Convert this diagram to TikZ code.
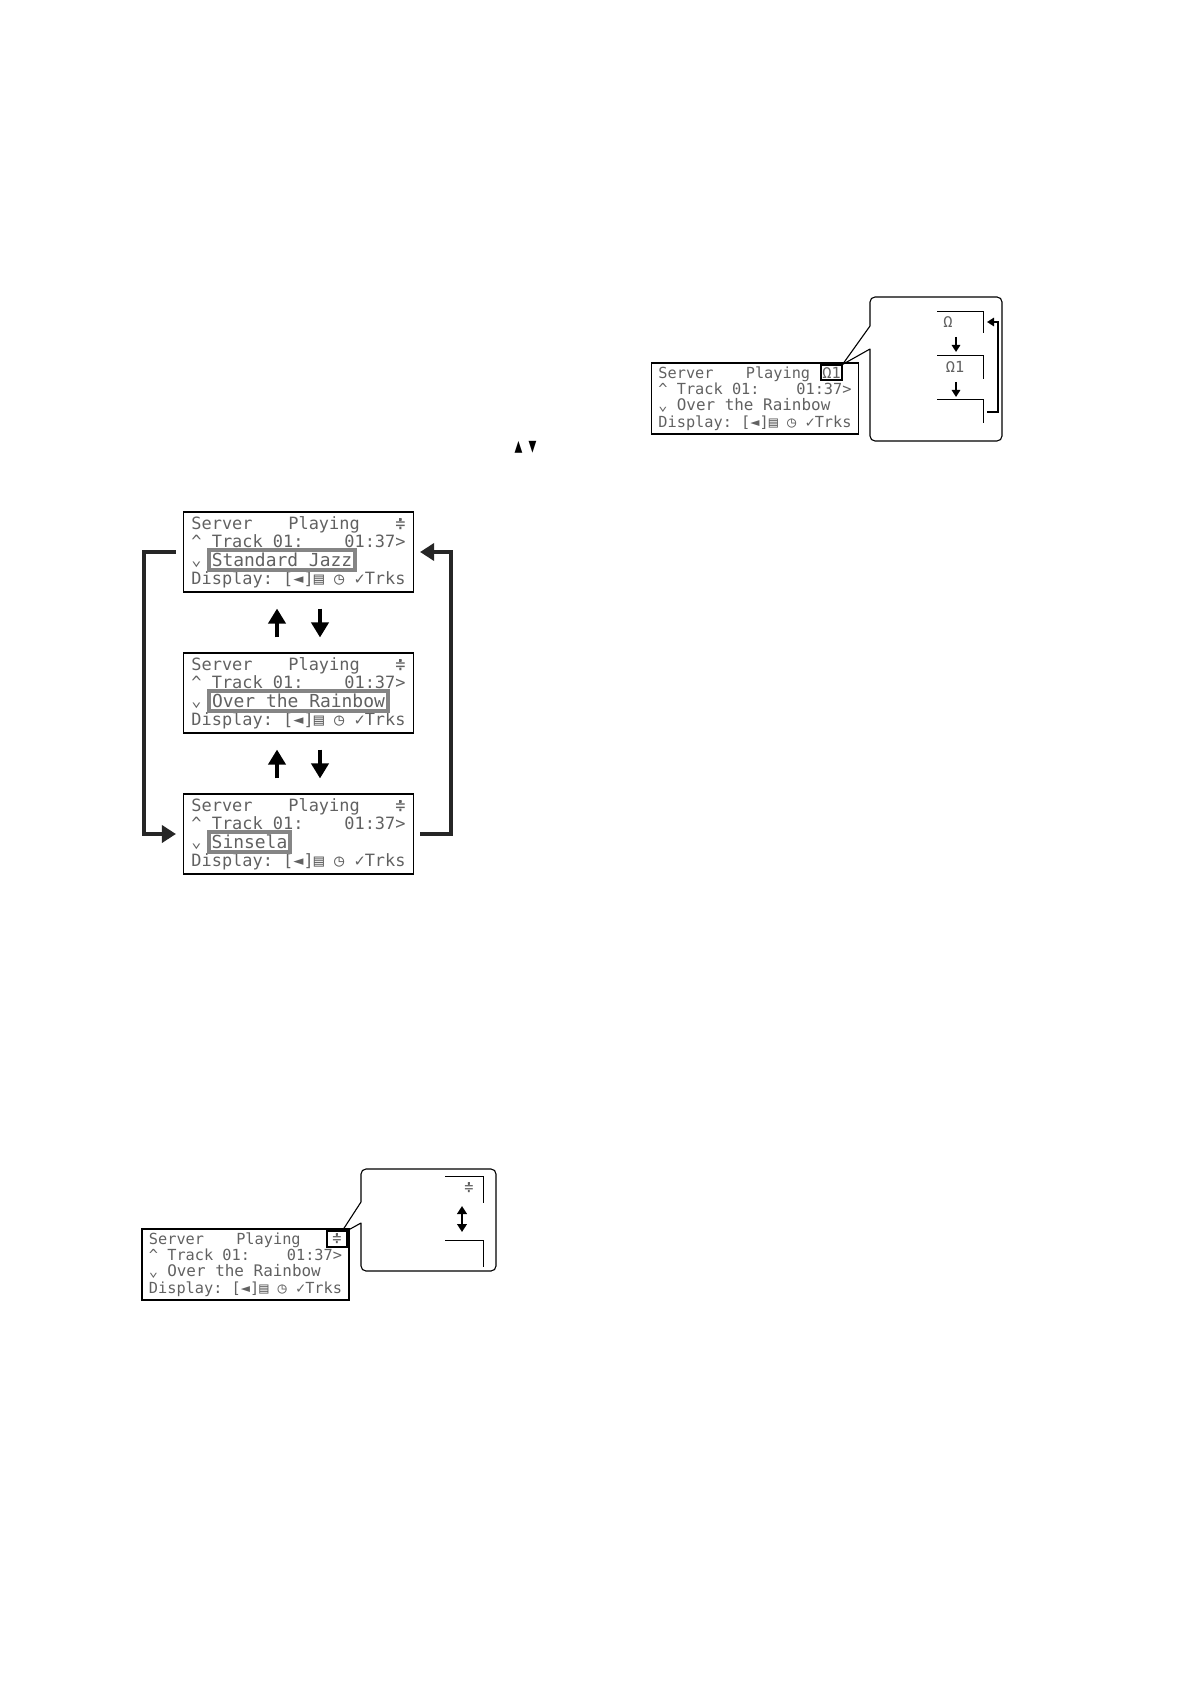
\documentclass[tikz,border=0pt]{standalone}
\usepackage{fontspec}
\usetikzlibrary{arrows.meta}
\newfontfamily\lcdfont{DejaVu Sans Mono}
\newcommand{\lcdlarge}{\lcdfont\fontsize{8.47}{9.15}\selectfont}
\newcommand{\lcdsmall}{\lcdfont\fontsize{7.64}{8.15}\selectfont}
\newcommand{\tracklines}{\^{}~Track~01:~~~~01:37>}
\newcommand{\displayline}{Display:~[◄]▤~◷~✓Trks}
\tikzset{
  lcdbox/.style={draw, line width=0.55pt, align=left, inner sep=0pt, text=black!62},
  bigbox/.style={lcdbox, minimum width=115pt, minimum height=40pt, font=\lcdlarge},
  smallbox/.style={lcdbox, minimum width=103.5pt, minimum height=35.5pt, font=\lcdsmall},
  titlebox/.style={draw=black!48, line width=2pt, fill=white, inner sep=0pt, minimum height=10pt, font=\lcdfont\fontsize{8.97}{9}\selectfont, text=black!62},
  markbox/.style={draw, line width=0.55pt, inner sep=0pt, font=\lcdsmall, text=black!62},
  marktext/.style={inner sep=0pt, font=\lcdsmall, text=black!62},
  callout/.style={line width=0.55pt, line join=round},
  crop/.style={line width=0.45pt},
  looparrow/.style={-{Triangle[length=7pt,width=8.5pt]}, line width=2pt, draw=black!85},
  keyarrow/.style={-{Triangle[length=7.5pt,width=8.5pt]}, line width=2.2pt},
  thinarrow/.style={-{Triangle[length=3.5pt,width=4.2pt]}, line width=1.1pt}
}
\begin{document}
\begin{tikzpicture}[x=0.5pt, y=-0.5pt]
  \useasboundingbox (0,0) rectangle (1190,1684);
  % the three track screens
  \foreach \name/\yc/\title/\hx/\hw in {A/552/Standard Jazz/282/146, B/693/Over the Rainbow/298.5/179, C/834/Sinsela/249.5/81} {
    \node[bigbox] (lcd\name) at (298.5,\yc) {Server~~~~\kern-2.5pt Playing~~~\kern2.5pt≑\\\tracklines\\⌄\\\displayline};
    \node[titlebox, minimum width=\hw/2*1pt] (title\name) at (\hx,\yc+8) {\title};
  }
  % up and down keys
  \foreach \upper/\lower in {lcdA/lcdB, lcdB/lcdC} {
    \draw[keyarrow] ([xshift=-10.75pt,yshift=7.5pt]\lower.north) -- ([xshift=-10.75pt,yshift=-8pt]\upper.south);
    \draw[keyarrow] ([xshift=10.75pt,yshift=-8pt]\upper.south) -- ([xshift=10.75pt,yshift=7.5pt]\lower.north);
  }
  % wrap around
  \draw[looparrow] ([xshift=-3.5pt]lcdA.west) -- ++(-32,0) |- ([xshift=-3.5pt]lcdC.west);
  \draw[looparrow] ([xshift=3pt]lcdC.east) -- ++(31,0) |- ([xshift=3pt]lcdA.east);
  % the two small triangles
  \node[font=\lcdfont\fontsize{10}{10}\selectfont, xscale=0.65, inner sep=0pt] (keyUp) at (518.5,447) {▲};
  \node[font=\lcdfont\fontsize{10}{10}\selectfont, xscale=0.65, inner sep=0pt] (keyDown) at (532.5,447) {▼};

  % repeat screen, upper right
  \node[smallbox] (lcdRepeat) at (755,398.5) {Server~~~~\kern-2.3pt Playing\\\tracklines\\⌄~{\fontsize{7.97}{8.15}\selectfont Over the Rainbow}\\\displayline};
  \node[markbox, minimum width=10.5pt, minimum height=7.5pt] (markRepeat) at (831.5,372.5) {Ω1};
  \draw[callout] (markRepeat.north east) -- (870,326) [rounded corners=2.5pt] -- (870,297) -- (1002,297) -- (1002,441) -- (870,441) [sharp corners] -- (870,349) -- (markRepeat.north east);
  \foreach \y/\h in {311/22, 355/24, 399/24}
    \draw[crop] (937,\y) -- (983,\y) -- (983,\y+\h);
  \node[marktext] (repOne) at (948,322) {Ω};
  \node[marktext] (repAll) at (955,367) {Ω1};
  \coordinate (stepOneTop) at (956,337);
  \coordinate (stepOneEnd) at (956,352);
  \coordinate (stepTwoTop) at (956,382);
  \coordinate (stepTwoEnd) at (956,397);
  \draw[thinarrow] (stepOneTop) -- (stepOneEnd);
  \draw[thinarrow] (stepTwoTop) -- (stepTwoEnd);
  \coordinate (loopStart) at (987,412);
  \coordinate (loopEnd) at (987,322);
  \draw[thinarrow, line width=1.4pt] (loopStart) -- ++(11,0) |- (loopEnd);

  % shuffle screen, lower left
  \node[smallbox] (lcdShuffle) at (245.5,1264.5) {Server~~~~\kern-2.3pt Playing\\\tracklines\\⌄~{\fontsize{7.97}{8.15}\selectfont Over the Rainbow}\\\displayline};
  \node[markbox, minimum width=10pt, minimum height=8pt] (markShuffle) at (337,1239) {≑};
  \draw[callout] ([xshift=-2.5pt]markShuffle.north east) -- (361,1202) [rounded corners=2.5pt] -- (361,1169) -- (496,1169) -- (496,1271) -- (361,1271) [sharp corners] -- (361,1223) -- (markShuffle.north east);
  \foreach \y/\h in {1176/27, 1240/27}
    \draw[crop] (445,\y) -- (483,\y) -- (483,\y+\h);
  \node[marktext] (shufOn) at (469,1188) {≑};
  \coordinate (shufTop) at (462,1206);
  \coordinate (shufBottom) at (462,1232);
  \draw[{Triangle[length=4pt,width=4.8pt]}-{Triangle[length=4pt,width=4.8pt]}, line width=1.1pt] (shufTop) -- (shufBottom);
\end{tikzpicture}
\end{document}
